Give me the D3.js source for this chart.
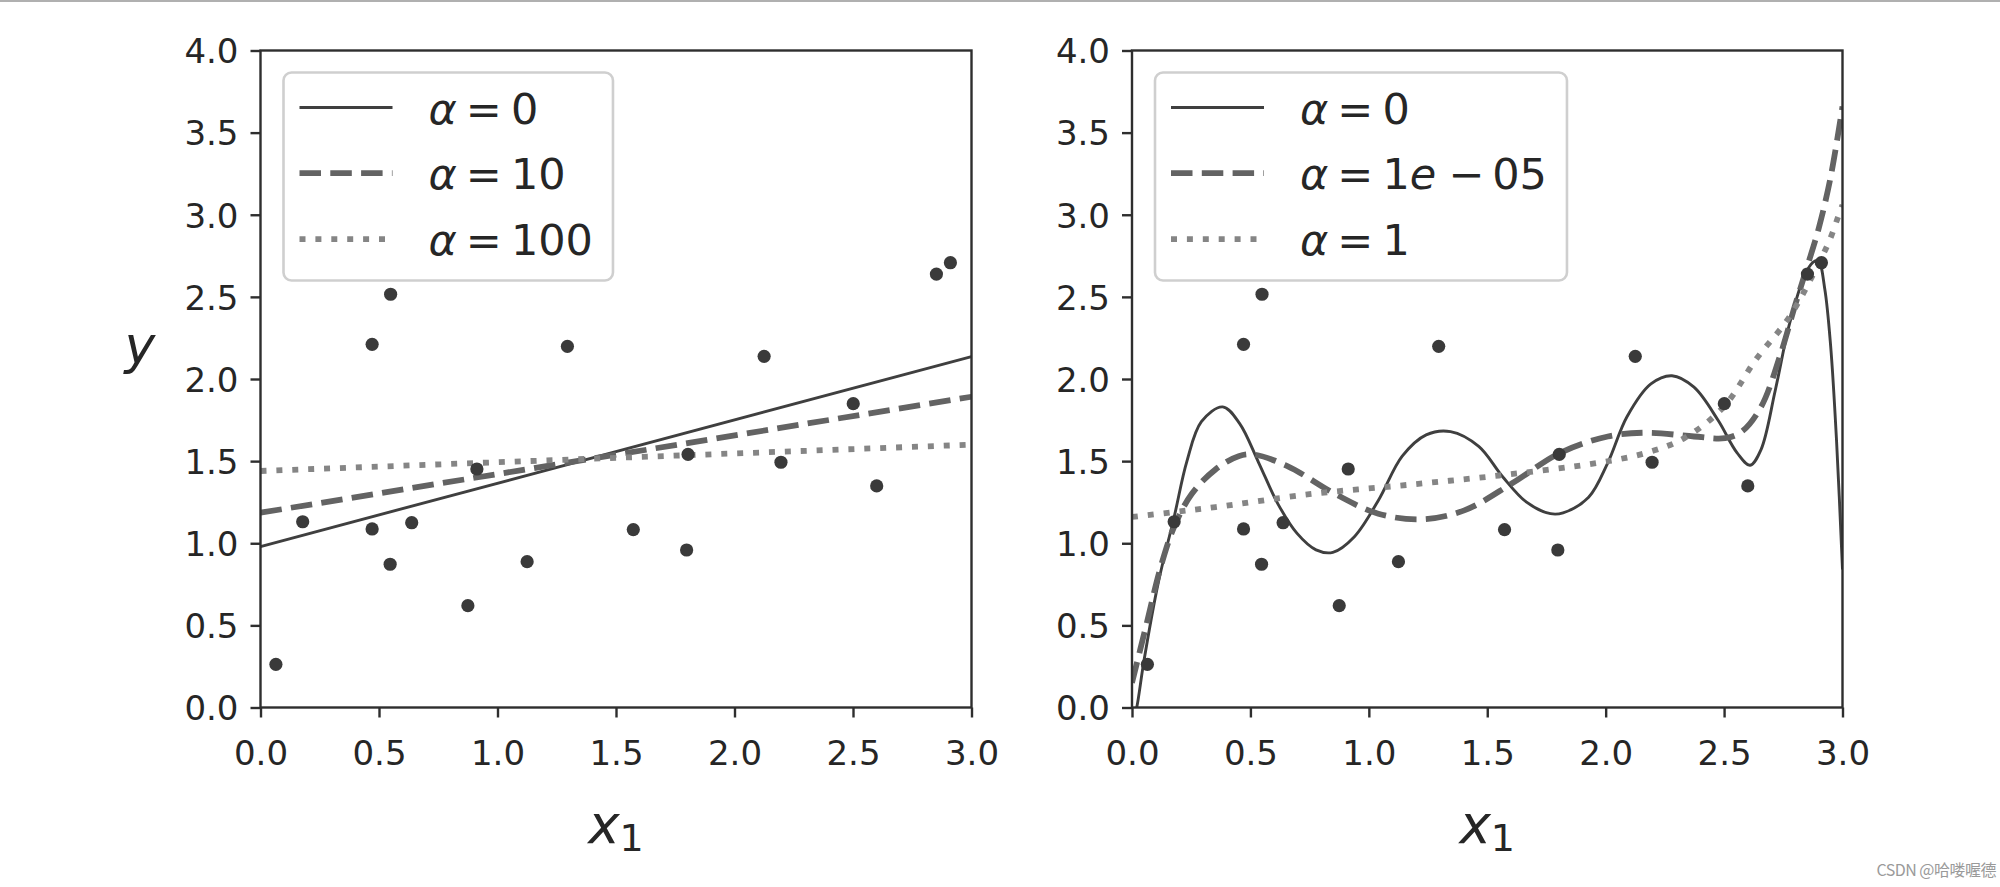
<!DOCTYPE html>
<html>
<head>
<meta charset="utf-8">
<script src="https://cdn.jsdelivr.net/npm/d3@7"></script>
<style>
  html, body { margin: 0; padding: 0; background: #fff; }
  svg { display: block; }
</style>
</head>
<body>
<svg id="chart" width="2000" height="887"></svg>
<script>
// ---------- data ----------
const xTicks = [0, 0.5, 1.0, 1.5, 2.0, 2.5, 3.0];
const yTicks = [0, 0.5, 1.0, 1.5, 2.0, 2.5, 3.0, 3.5, 4.0];

const pointsX = [0.065, 0.178, 0.471, 0.549, 0.471, 0.547, 0.638, 0.875, 0.913, 1.125,
                 1.295, 1.573, 1.798, 1.804, 2.125, 2.196, 2.501, 2.600, 2.852, 2.911];
const pointsY = [0.263, 1.131, 2.211, 2.516, 1.087, 0.872, 1.125, 0.620, 1.452, 0.888,
                 2.199, 1.083, 0.959, 1.541, 2.138, 1.493, 1.850, 1.349, 2.639, 2.708];

// left panel: linear models
const leftLabels = ["0", "10", "100"];
const linX = [0, 3];
const linSolidY = [0.980, 2.136];
const linDashY = [1.186, 1.892];
const linDotY = [1.440, 1.600];

// right panel: polynomial models
const rightLabels = ["0", "1e-05", "1"];
const polySolidX = [0.005, 0.02, 0.05, 0.111, 0.178, 0.232, 0.293, 0.383, 0.454, 0.535, 0.616, 0.697,
                    0.777, 0.848, 0.939, 1.040, 1.141, 1.242, 1.345, 1.464, 1.565, 1.666, 1.767,
                    1.820, 1.928, 2.009, 2.090, 2.191, 2.280, 2.373, 2.474, 2.555, 2.610, 2.656,
                    2.716, 2.777, 2.840, 2.875, 2.898, 2.925, 2.950, 2.975, 3.0];
const polySolidY = [-0.08, 0.0, 0.28, 0.76, 1.16, 1.50, 1.74, 1.83, 1.73, 1.49, 1.24, 1.06,
                    0.96, 0.945, 1.04, 1.26, 1.53, 1.66, 1.68, 1.59, 1.405, 1.25, 1.18,
                    1.185, 1.28, 1.49, 1.77, 1.97, 2.02, 1.95, 1.75, 1.55, 1.475, 1.57,
                    1.93, 2.34, 2.63, 2.71, 2.72, 2.55, 2.20, 1.62, 0.84];
const polyDashX = [0.0, 0.06, 0.12, 0.178, 0.252, 0.353, 0.45, 0.515, 0.656, 0.858, 1.040, 1.222,
                   1.403, 1.605, 1.807, 2.009, 2.171, 2.373, 2.504, 2.575, 2.656, 2.736, 2.800,
                   2.850, 2.900, 2.950, 3.0];
const polyDashY = [0.15, 0.50, 0.85, 1.10, 1.30, 1.45, 1.53, 1.54, 1.47, 1.30, 1.18, 1.146,
                   1.20, 1.365, 1.55, 1.65, 1.673, 1.65, 1.64, 1.68, 1.83, 2.14, 2.45,
                   2.68, 2.92, 3.23, 3.66];
const polyDotX = [0.0, 0.178, 0.353, 0.757, 1.161, 1.565, 1.969, 2.171, 2.332, 2.498, 2.635,
                  2.777, 2.898, 2.947, 2.982, 3.0];
const polyDotY = [1.16, 1.19, 1.22, 1.30, 1.355, 1.415, 1.49, 1.55, 1.64, 1.83, 2.12,
                  2.38, 2.70, 2.85, 2.99, 3.06];

// ---------- styles ----------
const styles = [
  { color: "#3f3f3f", width: 2.9, dash: null },
  { color: "#636363", width: 5.8, dash: "21.5,9.3" },
  { color: "#858585", width: 5.8, dash: "6,9.9" }
];
const textColor = "#262626";
const spineColor = "#2e2e2e";

const svg = d3.select("#chart");
const plotTop = 50.5, plotBottom = 707.5;

function drawPanel(id, xLeft, xRight, lines, labels, withYLabel) {
  const x = d3.scaleLinear().domain([0, 3]).range([xLeft, xRight]);
  const y = d3.scaleLinear().domain([0, 4]).range([plotBottom, plotTop]);
  const g = svg.append("g");

  g.append("clipPath").attr("id", "clip" + id)
    .append("rect").attr("x", xLeft).attr("y", plotTop)
    .attr("width", xRight - xLeft).attr("height", plotBottom - plotTop);

  const lineGen = d3.line()
    .x(d => x(d[0])).y(d => y(d[1]))
    .curve(d3.curveCatmullRom.alpha(0.5));

  const plot = g.append("g").attr("clip-path", `url(#clip${id})`);
  lines.forEach((ln, i) => {
    const s = styles[i];
    plot.append("path")
      .datum(d3.zip(ln.x, ln.y))
      .attr("d", lineGen)
      .attr("fill", "none")
      .attr("stroke", s.color)
      .attr("stroke-width", s.width)
      .attr("stroke-dasharray", s.dash)
      .attr("stroke-linecap", "butt");
  });

  plot.selectAll("circle.pt")
    .data(d3.zip(pointsX, pointsY))
    .join("circle")
    .attr("class", "pt")
    .attr("cx", d => x(d[0]))
    .attr("cy", d => y(d[1]))
    .attr("r", 6.6)
    .attr("fill", "#3a3a3a");

  // axes
  const xAxis = d3.axisBottom(x).tickValues(xTicks).tickFormat(d3.format(".1f"))
    .tickSize(10).tickSizeOuter(0);
  const yAxis = d3.axisLeft(y).tickValues(yTicks).tickFormat(d3.format(".1f"))
    .tickSize(10).tickSizeOuter(0);

  const gx = g.append("g").attr("transform", `translate(0,${plotBottom})`).call(xAxis);
  const gy = g.append("g").attr("transform", `translate(${xLeft},0)`).call(yAxis);
  [gx, gy].forEach(a => {
    a.select(".domain").remove();
    a.selectAll(".tick line").attr("stroke", spineColor).attr("stroke-width", 2.4);
    a.selectAll(".tick text")
      .attr("fill", textColor)
      .style("font-family", "'DejaVu Sans'")
      .style("font-size", "34px");
  });
  gx.selectAll(".tick text").attr("y", 57.5).attr("dy", null);
  gy.selectAll(".tick text").attr("x", -22).attr("dy", "0.36em");

  // frame
  g.append("rect")
    .attr("x", xLeft).attr("y", plotTop)
    .attr("width", xRight - xLeft).attr("height", plotBottom - plotTop)
    .attr("fill", "none").attr("stroke", spineColor).attr("stroke-width", 2.4);

  // legend
  const lx = xLeft + 23, ly = plotTop + 22;
  const leg = g.append("g");
  const frame = leg.append("rect")
    .attr("x", lx).attr("y", ly).attr("rx", 8).attr("ry", 8)
    .attr("height", 208)
    .attr("fill", "#fff").attr("fill-opacity", 0.8)
    .attr("stroke", "#cfcfcf").attr("stroke-width", 2.6);
  const rowY = [35, 100.6, 166.6];
  let maxRight = 0;
  labels.forEach((lab, i) => {
    const s = styles[i];
    const yy = ly + rowY[i];
    leg.append("line")
      .attr("x1", lx + 16).attr("x2", lx + 109)
      .attr("y1", yy).attr("y2", yy)
      .attr("stroke", s.color).attr("stroke-width", s.width)
      .attr("stroke-dasharray", s.dash);
    const t = leg.append("text")
      .attr("x", lx + 145).attr("y", yy + 16)
      .attr("fill", textColor)
      .style("font-family", "'DejaVu Sans'")
      .style("font-size", "43px");
    t.append("tspan").attr("font-style", "italic").text("α");
    t.append("tspan").attr("dx", 9).text("=");
    if (lab.includes("e-")) {
      const parts = lab.split("e-");
      t.append("tspan").attr("dx", 9).text(parts[0]);
      t.append("tspan").attr("font-style", "italic").text("e");
      t.append("tspan").attr("dx", 12).text("\u2212");
      t.append("tspan").attr("dx", 8).text(parts[1]);
    } else {
      t.append("tspan").attr("dx", 9).text(lab);
    }
    const bb = t.node().getBBox();
    maxRight = Math.max(maxRight, bb.x + bb.width);
  });
  frame.attr("width", maxRight + 20 - lx);
  leg.raise();

  // x label
  const cx = (xLeft + xRight) / 2;
  const xl = g.append("text")
    .attr("x", cx).attr("y", 843)
    .attr("text-anchor", "middle")
    .attr("fill", textColor)
    .style("font-family", "'DejaVu Sans'");
  xl.append("tspan").attr("font-style", "italic").style("font-size", "53px").text("x");
  xl.append("tspan").attr("dy", 8).style("font-size", "38px").text("1");

  if (withYLabel) {
    g.append("text")
      .attr("x", 140).attr("y", 363)
      .attr("text-anchor", "middle")
      .attr("fill", textColor)
      .attr("font-style", "italic")
      .style("font-family", "'DejaVu Sans'")
      .style("font-size", "52px")
      .text("y");
  }
}

// top border line of the image
svg.append("line").attr("x1", 0).attr("x2", 2000).attr("y1", 1).attr("y2", 1)
  .attr("stroke", "#b0b0b0").attr("stroke-width", 2);

drawPanel("L", 260.5, 971.5, [
  { x: linX, y: linSolidY },
  { x: linX, y: linDashY },
  { x: linX, y: linDotY }
], leftLabels, true);

drawPanel("R", 1132, 1842.5, [
  { x: polySolidX, y: polySolidY },
  { x: polyDashX, y: polyDashY },
  { x: polyDotX, y: polyDotY }
], rightLabels, false);

// watermark
svg.append("text")
  .attr("x", 1996).attr("y", 876)
  .attr("text-anchor", "end")
  .attr("fill", "#9a9a9a")
  .style("font-family", "'Noto Sans CJK SC', 'Noto Sans'")
  .style("font-size", "16px")
  .style("letter-spacing", "-0.5px")
  .text("CSDN @哈喽喔德");
</script>
</body>
</html>
